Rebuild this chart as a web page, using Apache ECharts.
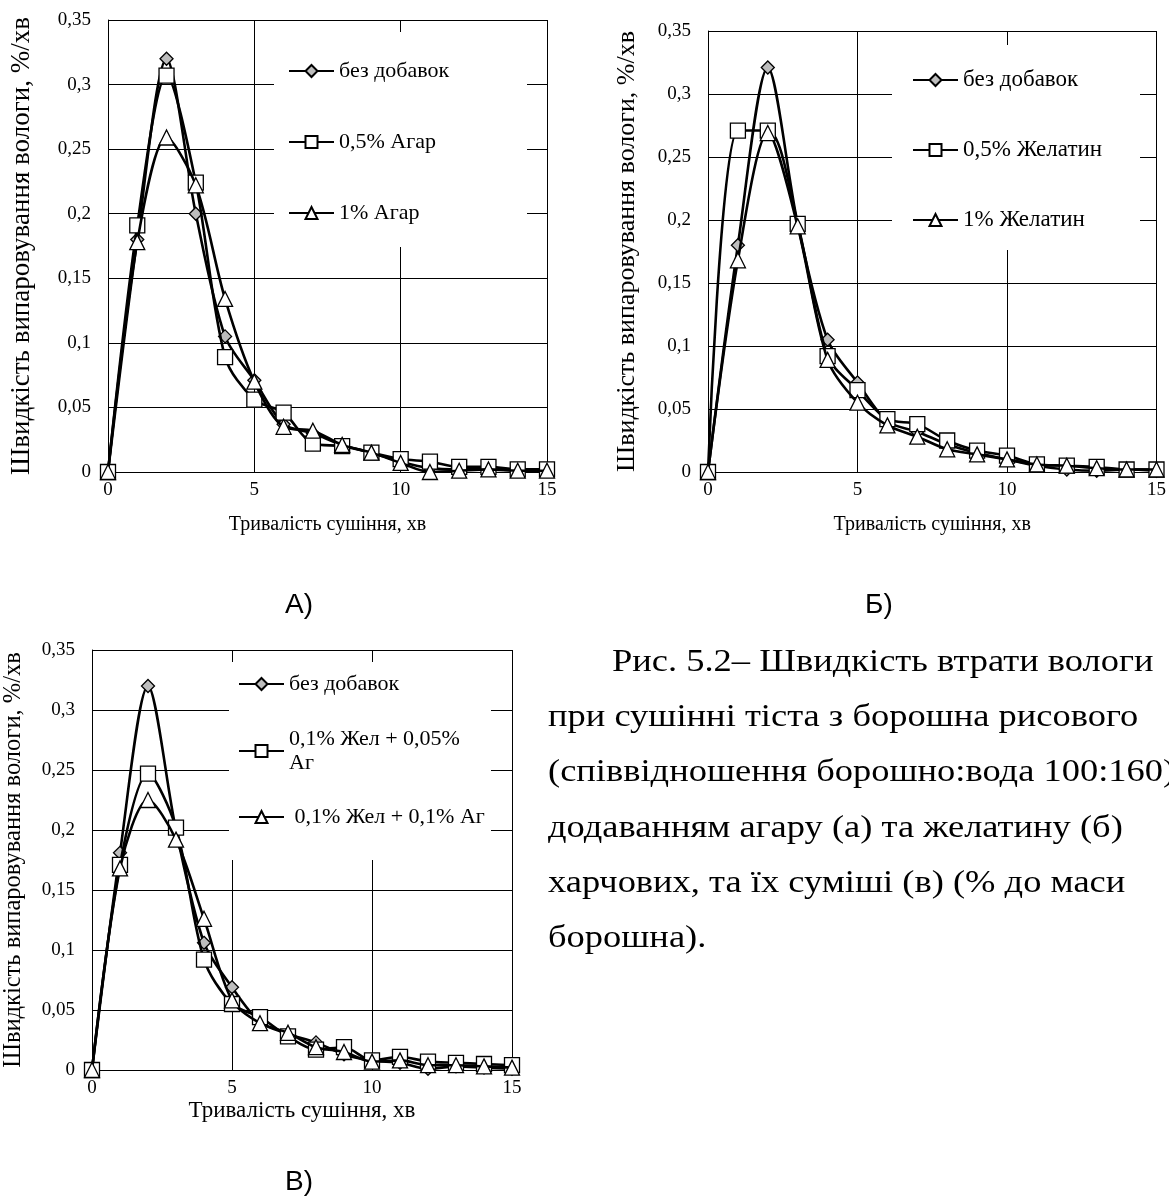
<!DOCTYPE html>
<html><head><meta charset="utf-8">
<script src="https://cdn.jsdelivr.net/npm/echarts@6/dist/echarts.min.js"></script>
<style>html,body{margin:0;padding:0;background:#fff}#c{width:1169px;height:1200px}</style>
</head><body><div id="c"></div>
<script>
// ---- data ----
const minutes = [0,1,2,3,4,5,6,7,8,9,10,11,12,13,14,15];
const xTicks = [0,5,10,15];
const yTicks = [0,0.05,0.1,0.15,0.2,0.25,0.3,0.35];

const namesA = ['без добавок','0,5% Агар','1% Агар'];
const A_base   = [0,0.180,0.320,0.200,0.105,0.071,0.037,0.030,0.021,0.015,0.008,0.003,0.002,0.002,0.001,0.001];
const A_agar05 = [0,0.191,0.307,0.224,0.089,0.056,0.046,0.022,0.020,0.015,0.010,0.008,0.004,0.004,0.002,0.002];
const A_agar1  = [0,0.178,0.259,0.222,0.134,0.070,0.035,0.032,0.021,0.015,0.007,0.000,0.001,0.002,0.001,0.001];

const namesB = ['без добавок','0,5% Желатин','1% Желатин'];
const B_base  = [0,0.180,0.321,0.197,0.105,0.071,0.040,0.032,0.022,0.015,0.010,0.005,0.002,0.001,0.002,0.001];
const B_gel05 = [0,0.271,0.271,0.197,0.092,0.065,0.042,0.038,0.025,0.017,0.013,0.006,0.005,0.004,0.002,0.002];
const B_gel1  = [0,0.168,0.269,0.195,0.089,0.055,0.037,0.028,0.018,0.014,0.010,0.006,0.005,0.003,0.002,0.002];

const namesC = ['без добавок','0,1% Жел + 0,05% Аг','0,1% Жел + 0,1% Аг'];
const C_base   = [0,0.181,0.320,0.200,0.106,0.069,0.040,0.030,0.023,0.013,0.008,0.006,0.001,0.003,0.002,0.001];
const C_mix005 = [0,0.171,0.247,0.202,0.092,0.055,0.044,0.028,0.017,0.019,0.008,0.011,0.007,0.006,0.005,0.004];
const C_mix01  = [0,0.168,0.225,0.192,0.126,0.058,0.039,0.031,0.019,0.015,0.007,0.008,0.004,0.004,0.003,0.002];

const xTitle = 'Тривалість сушіння, хв';
const yTitle = 'Швидкість випаровування вологи, %/хв';
const panelLabels = ['А)','Б)','В)'];
const captionLines = [
  'Рис. 5.2– Швидкість втрати вологи',
  'при сушінні тіста з борошна рисового',
  '(співвідношення борошно:вода 100:160)',
  'додаванням агару (а) та желатину (б)',
  'харчових, та їх суміші (в) (% до маси',
  'борошна).'
];

// ---- chart ----
const SERIF = 'Liberation Serif, Times New Roman, serif';
const fmtY = v => (+v.toFixed(2)).toString().replace('.', ',');

const grids = [
  {left:108, top:20, width:439, height:452},
  {left:708, top:31, width:450, height:441},
  {left:90,  top:650, width:422, height:420}
];
const nameGapsY = [73, 68, 66];
const yTitleSize = [27, 26, 24.5];
const nameGapsX = [43, 43, 29];
const xTitleSize = [20, 20, 23];

function mkX(i){
  return {type:'value', gridIndex:i, min:xTicks[0], max:xTicks[xTicks.length-1], interval:xTicks[1]-xTicks[0],
    name:xTitle, nameLocation:'middle', nameGap:nameGapsX[i],
    nameTextStyle:{fontFamily:SERIF, fontSize:xTitleSize[i], color:'#000'},
    axisLine:{lineStyle:{color:'#000', width:1}}, axisTick:{show:false},
    axisLabel:{fontFamily:SERIF, fontSize:19, color:'#000', margin:9},
    splitLine:{show:true, lineStyle:{color:'#000', width:1}}};
}
function mkY(i){
  return {type:'value', gridIndex:i, min:yTicks[0], max:yTicks[yTicks.length-1], interval:0.05,
    name:yTitle, nameLocation:'middle', nameGap:nameGapsY[i], nameRotate:90,
    nameTextStyle:{fontFamily:SERIF, fontSize:yTitleSize[i], color:'#000'},
    axisLine:{show:true, lineStyle:{color:'#000', width:1}}, axisTick:{show:false},
    axisLabel:{fontFamily:SERIF, fontSize:19, color:'#000', margin:17, formatter:fmtY},
    splitLine:{show:true, lineStyle:{color:'#000', width:1}}};
}
const styles = [
  {symbol:'diamond', symbolSize:13, fill:'#bdbdbd'},
  {symbol:'rect', symbolSize:15, fill:'#ffffff'},
  {symbol:'triangle', symbolSize:15, fill:'#ffffff'}
];
function mkS(name, vals, gi, k){
  const st = styles[k];
  return {type:'line', name:name, xAxisIndex:gi, yAxisIndex:gi,
    data: minutes.map((m,j)=>[m, vals[j]]), smooth:0.3,
    symbol:st.symbol, symbolSize:st.symbolSize, showAllSymbol:true,
    lineStyle:{color:'#000', width:2.6},
    itemStyle:{color:st.fill, borderColor:'#000', borderWidth:1.3},
    z: 2+k, animation:false};
}
const series = [
  mkS(namesA[0], A_base, 0, 0), mkS(namesA[1], A_agar05, 0, 1), mkS(namesA[2], A_agar1, 0, 2),
  mkS(namesB[0], B_base, 1, 0), mkS(namesB[1], B_gel05, 1, 1), mkS(namesB[2], B_gel1, 1, 2),
  mkS(namesC[0], C_base, 2, 0), mkS(namesC[1], C_mix005, 2, 1), mkS(namesC[2], C_mix01, 2, 2)
];
const legTxt = {fontFamily:SERIF, fontSize:22, color:'#000', lineHeight:24};
function mkLeg(data, left, top, gap, extra, size){
  return Object.assign({data:data, orient:'vertical', left:left, top:top, itemGap:gap, padding:0,
    itemWidth:45, itemHeight:15, selectedMode:false,
    textStyle:Object.assign({}, legTxt, size ? {fontSize:size} : {})}, extra||{});
}
const legends = [
  mkLeg(namesA, 288, 59, 47),
  mkLeg(namesB, 912, 68, 46, null, 23),
  mkLeg([namesC[0]], 238, 672, 10),
  mkLeg([namesC[1]], 238, 715, 10, {formatter: n => n.replace('0,05% Аг','0,05%\nАг'),
      textStyle:Object.assign({}, legTxt, {lineHeight:24, padding:[24,0,0,0]})}),
  mkLeg([namesC[2]], 238, 805, 10, {formatter: n => ' ' + n})
];

const graphics = [
  {type:'rect', shape:{x:274, y:32, width:253, height:215}, style:{fill:'#fff'}, z:1, silent:true},
  {type:'rect', shape:{x:892, y:45, width:248, height:205}, style:{fill:'#fff'}, z:1, silent:true},
  {type:'rect', shape:{x:229, y:662, width:262, height:198}, style:{fill:'#fff'}, z:1, silent:true},
  {type:'text', left:285, top:591, style:{text:panelLabels[0], font:'28px Liberation Sans, Arial, sans-serif', fill:'#000'}},
  {type:'text', left:865, top:591, style:{text:panelLabels[1], font:'28px Liberation Sans, Arial, sans-serif', fill:'#000'}},
  {type:'text', left:285, top:1168, style:{text:panelLabels[2], font:'28px Liberation Sans, Arial, sans-serif', fill:'#000'}}
];
const capX = [612,548,548,548,548,548];
const capY = [663,718,773,829,884,939];
captionLines.forEach((t,i)=>{
  graphics.push({type:'text', x:capX[i], y:capY[i], scaleX:1.14, scaleY:1,
    style:{text:t, font:'32px Liberation Serif, Times New Roman, serif', fill:'#000', textVerticalAlign:'middle', textAlign:'left'}});
});

const chart = echarts.init(document.getElementById('c'), null, {renderer:'canvas'});
chart.setOption({
  animation:false,
  backgroundColor:'#fff',
  grid: grids,
  xAxis: [mkX(0), mkX(1), mkX(2)],
  yAxis: [mkY(0), mkY(1), mkY(2)],
  legend: legends,
  series: series,
  graphic: graphics
});
</script></body></html>
